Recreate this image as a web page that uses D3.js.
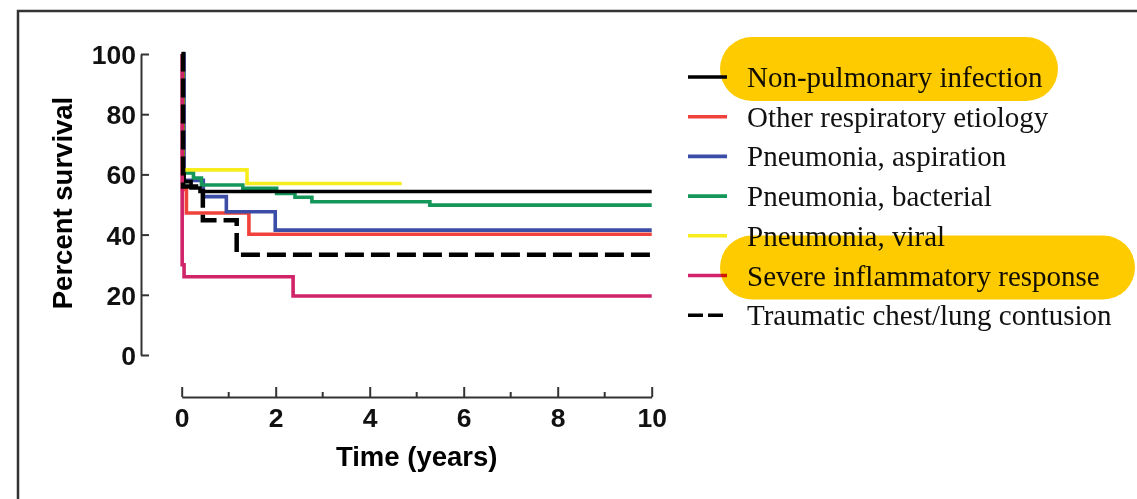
<html>

<head>
  <script src="https://d3js.org/d3.v7.min.js"></script>
  <style>
    body { margin: 0; background: #fff; }
    .axis text { font-family: "Liberation Sans", Arial, sans-serif; font-weight: bold; font-size: 26.5px; fill: #111; }
    .axis path, .axis line { stroke: #333; stroke-width: 2; }
  </style>
</head>

<body>
  <svg id="km" width="1137" height="499"></svg>

  <script>
    // survival steps: [years, percent]
    const nonPulmonary = [[0, 100], [0.02, 60], [0.05, 57.6], [0.2, 55.5], [0.39, 54.3], [10, 54.3]];
    const otherRespiratory = [[0, 100], [0.02, 55], [0.1, 47.2], [1.43, 40.1], [10, 40.1]];
    const pneumoniaAspiration = [[0, 100], [0.05, 58], [0.46, 52.6], [0.95, 47.6], [1.99, 41.5], [10, 41.5]];
    const pneumoniaBacterial = [[0, 100], [0.03, 60.5], [0.25, 58.8], [0.42, 56.5], [1.3, 55.4], [2.02, 53.7], [2.41, 52.4], [2.77, 50.9], [5.28, 49.8], [10, 49.8]];
    const pneumoniaViral = [[0, 100], [0.03, 61.5], [1.39, 57], [4.68, 57]];
    const severeInflammatory = [[0, 100], [0.01, 30], [0.05, 26], [2.37, 19.6], [10, 19.6]];
    const traumaticChest = [[0, 100], [0.03, 56], [0.45, 44.8], [1.17, 33.3], [10, 33.3]];

    const legendLabels = ["Non-pulmonary infection", "Other respiratory etiology", "Pneumonia, aspiration",
      "Pneumonia, bacterial", "Pneumonia, viral", "Severe inflammatory response", "Traumatic chest/lung contusion"];
    const highlighted = ["Non-pulmonary infection", "Severe inflammatory response"];
    const yTicks = [0, 20, 40, 60, 80, 100];
    const xTicks = [0, 2, 4, 6, 8, 10];

    const series = [
      { name: legendLabels[0], values: nonPulmonary, color: "#000000", dash: null },
      { name: legendLabels[1], values: otherRespiratory, color: "#f0413a", dash: null },
      { name: legendLabels[2], values: pneumoniaAspiration, color: "#3b4da6", dash: null },
      { name: legendLabels[3], values: pneumoniaBacterial, color: "#15975a", dash: null },
      { name: legendLabels[4], values: pneumoniaViral, color: "#f7ec1c", dash: null },
      { name: legendLabels[5], values: severeInflammatory, color: "#d02368", dash: null },
      { name: legendLabels[6], values: traumaticChest, color: "#000000", dash: "19,7" }
    ];

    const svg = d3.select('svg#km');

    // frame (top and left edges only)
    svg.append("path")
      .attr("d", "M18,499 V11 H1137")
      .attr("fill", "none")
      .attr("stroke", "#333")
      .attr("stroke-width", 2.5);

    const x = d3.scaleLinear().domain([0, 10]).range([181.7, 651.7]);
    const y = d3.scaleLinear().domain([0, 100]).range([355, 54]);

    // y axis, ticks pointing inward
    const yAxis = svg.append("g").attr("class", "axis")
      .attr("transform", "translate(141,0)")
      .call(d3.axisRight(y).tickValues(yTicks).tickSize(8).tickSizeOuter(0));
    yAxis.selectAll("text").attr("x", -5).attr("text-anchor", "end").attr("dy", "0.36em");

    // x axis, detached below the plot
    const xAxis = svg.append("g").attr("class", "axis")
      .attr("transform", "translate(0,397)")
      .call(d3.axisTop(x).tickValues(xTicks).tickSize(10).tickSizeOuter(0));
    xAxis.selectAll("text").attr("y", 30).attr("dy", 0);
    xAxis.selectAll(".minor")
      .data(d3.range(1, 10, 2))
      .join("line")
      .attr("class", "minor")
      .attr("x1", d => x(d)).attr("x2", d => x(d))
      .attr("y1", 0).attr("y2", -5);

    svg.append("text")
      .attr("transform", "rotate(-90)")
      .attr("x", -203)
      .attr("y", 72)
      .attr("text-anchor", "middle")
      .style("font-family", "Liberation Sans, Arial, sans-serif")
      .style("font-weight", "bold")
      .style("font-size", "27.5px")
      .text("Percent survival");

    svg.append("text")
      .attr("x", 416.7)
      .attr("y", 466)
      .attr("text-anchor", "middle")
      .style("font-family", "Liberation Sans, Arial, sans-serif")
      .style("font-weight", "bold")
      .style("font-size", "27.5px")
      .text("Time (years)");

    // curves
    const line = d3.line()
      .x(d => x(d[0]))
      .y(d => y(d[1]))
      .curve(d3.curveStepAfter);

    const drawOrder = [1, 2, 3, 4, 0, 5, 6];
    svg.append("g").selectAll("path")
      .data(drawOrder.map(i => series[i]))
      .join("path")
      .attr("d", d => line(d.values))
      .attr("fill", "none")
      .attr("stroke", d => d.color)
      .attr("stroke-width", d => d.dash ? 4.5 : 3.6)
      .attr("stroke-dasharray", d => d.dash);

    // legend
    const legend = svg.append("g").attr("transform", "translate(688,77)");
    const rowH = 39.7;
    const rows = legend.selectAll("g")
      .data(series)
      .join("g")
      .attr("transform", (d, i) => `translate(0,${i * rowH})`);
    rows.append("line")
      .attr("x1", 0).attr("x2", 39)
      .attr("stroke", d => d.color)
      .attr("stroke-width", 3.6)
      .attr("stroke-dasharray", d => d.dash ? "15,5" : null);
    rows.append("text")
      .attr("x", 59)
      .attr("y", 10)
      .style("font-family", "Liberation Serif, Times New Roman, serif")
      .style("font-size", "29px")
      .style("fill", "#111")
      .text(d => d.name);

    // yellow highlight pills
    const pills = [
      { label: highlighted[0], x0: 720, x1: 1058 },
      { label: highlighted[1], x0: 720, x1: 1135 }
    ];
    legend.selectAll("rect.pill")
      .data(pills)
      .join("rect")
      .attr("class", "pill")
      .attr("x", d => d.x0 - 688)
      .attr("y", d => legendLabels.indexOf(d.label) * rowH - 40)
      .attr("width", d => d.x1 - d.x0)
      .attr("height", 64)
      .attr("rx", 32)
      .style("fill", "#fecb00")
      .style("mix-blend-mode", "multiply");
  </script>
</body>

</html>
